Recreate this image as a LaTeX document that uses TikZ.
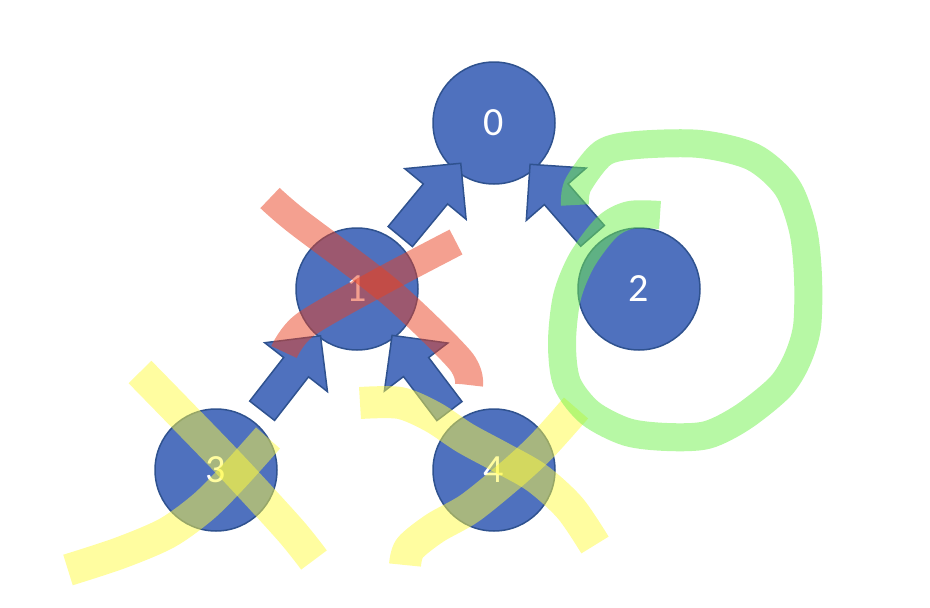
\documentclass[tikz,border=0pt]{standalone}
\usepackage{fontspec}
\setmainfont{Carlito}
\usepackage{xcolor}
\usepackage{tikz}
\usetikzlibrary{shapes.arrows, calc}
\definecolor{azul}{RGB}{79,113,190}
\definecolor{azulborde}{RGB}{47,82,143}
\definecolor{rojo}{RGB}{233,65,33}
\definecolor{amarillo}{RGB}{255,251,65}
\definecolor{verde}{RGB}{111,241,75}
\tikzset{
  nodo/.style={circle, draw=azulborde, line width=1.5pt, fill=azul,
    minimum size=122pt, inner sep=0pt, text=white,
    font=\fontsize{40}{46}\selectfont},
  flecha/.style={single arrow, draw=azulborde, line width=1.5pt, fill=azul,
    minimum height=95pt, inner xsep=0pt, inner ysep=15pt,
    single arrow head extend=24pt, single arrow tip angle=90,
    single arrow head indent=0pt},
  resaltador/.style={line width=28pt, line cap=butt, line join=round,
    opacity=0.5}
}

\begin{document}
\begin{tikzpicture}[x=1pt, y=-1pt]
  \useasboundingbox (0,0) rectangle (930,608);

  % --- Nodos ---
  \foreach \x/\y/\n in {494/123/0, 357/289/1, 639/289/2, 216/470/3, 494/470/4} {
    \node[nodo] (n\n) at (\x,\y) {\n};
  }

  % --- Flechas (hijo -> padre) ---
  \foreach \a/\b in {1/0, 2/0, 3/1, 4/1} {
    \path (n\a) -- node[flecha, sloped, allow upside down] (f\a) {} (n\b);
  }

  % --- Marcas de resaltador ---
  % nodo 1 tachado
  \draw[resaltador, rojo] plot[smooth] coordinates
    {(270,198) (298,222) (390,292) (460,360) (469,385)};
  \draw[resaltador, rojo] plot[smooth] coordinates
    {(284,352) (305,325) (380,282) (456,242)};
  % nodos 3 y 4 tachados
  \draw[resaltador, amarillo, line width=32pt] plot[smooth] coordinates
    {(140,372) (180,413) (235,470) (290,530) (314,560)};
  \draw[resaltador, amarillo, line width=32pt] plot[smooth] coordinates
    {(68,570) (120,553) (167,533) (203,507) (233,477) (268,438)};
  \draw[resaltador, amarillo, line width=32pt] plot[smooth] coordinates
    {(360,403) (400,403) (433,417) (465,438) (502,458) (537,478) (570,508) (595,545)};
  \draw[resaltador, amarillo, line width=32pt] plot[smooth] coordinates
    {(405,565) (410,548) (435,528) (470,508) (513,473) (543,445) (576,408)};
  % nodo 2 rodeado
  \draw[resaltador, verde] plot[smooth] coordinates
    {(575,205) (578,185) (603,153) (637,145) (700,144) (753,157) (787,187)
     (803,230) (808,277) (807,327) (797,360) (780,387) (743,417) (707,435)
     (667,437) (627,432) (590,413) (567,383) (562,343) (567,297) (582,260)
     (607,227) (630,215) (660,215)};

\end{tikzpicture}
\end{document}
